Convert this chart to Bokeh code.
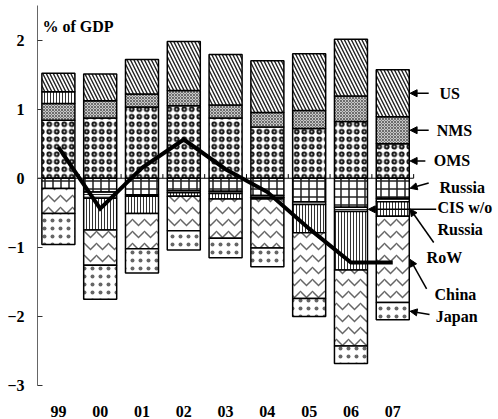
import numpy as np
from bokeh.plotting import figure
from bokeh.models import FixedTicker, Arrow, NormalHead
from bokeh.core.properties import value
from bokeh.embed import file_html
from bokeh.resources import INLINE

years = ["99", "00", "01", "02", "03", "04", "05", "06", "07"]

# positive contributions (% of GDP), stacked upward from zero
oms = [0.84, 0.87, 1.03, 1.05, 0.87, 0.74, 0.72, 0.82, 0.50]
nms = [0.24, 0.25, 0.19, 0.22, 0.19, 0.21, 0.26, 0.37, 0.39]
row_pos = [0.17, 0, 0, 0, 0, 0, 0, 0, 0]
us = [0.27, 0.39, 0.50, 0.71, 0.73, 0.75, 0.82, 0.82, 0.68]

# negative contributions, stacked downward from zero
russia = [-0.15, -0.20, -0.24, -0.18, -0.19, -0.25, -0.34, -0.42, -0.29]
cis = [0, -0.09, -0.02, -0.03, -0.03, -0.03, -0.04, -0.06, -0.05]
row_neg = [0, -0.46, -0.25, -0.05, -0.08, -0.02, -0.41, -0.85, -0.21]
china = [-0.36, -0.51, -0.51, -0.50, -0.57, -0.71, -0.95, -1.10, -1.25]
japan = [-0.45, -0.49, -0.35, -0.28, -0.28, -0.27, -0.26, -0.25, -0.25]

# euro area balance (line)
total = [0.45, -0.44, 0.15, 0.56, 0.13, -0.20, -0.73, -1.22, -1.22]

y_ticks = [-3, -2, -1, 0, 1, 2]

FONT = "Liberation Serif"
FS = "16px"
BAR_W = 0.79

styles = {
    "US": dict(hatch_pattern="\\", hatch_scale=7, hatch_weight=1.4, hatch_color="#222222", fill_color="white"),
    "NMS": dict(hatch_pattern="x", hatch_scale=3, hatch_weight=0.8, hatch_color="#555555", fill_color="#c8c8c8"),
    "OMS": dict(hatch_pattern="o", hatch_scale=7.5, hatch_weight=2.0, hatch_color="#111111", fill_color="white"),
    "RoW": dict(hatch_pattern="|", hatch_scale=3, hatch_weight=1, hatch_color="#333333", fill_color="white"),
    "Russia": dict(hatch_pattern="+", hatch_scale=8, hatch_weight=1.5, hatch_color="#222222", fill_color="white"),
    "CIS": dict(hatch_pattern="-", hatch_scale=2.5, hatch_weight=1.2, hatch_color="#111111", fill_color="white"),
    "China": dict(hatch_pattern="v", hatch_scale=12, hatch_weight=1.5, hatch_color="#666666", fill_color="white"),
    "Japan": dict(hatch_pattern=".", hatch_scale=8, hatch_weight=0.6, hatch_color="#666666", fill_color="white"),
}

n = len(years)
xs = np.arange(n)

p = figure(width=498, height=419, x_range=(-0.5, 10.53), y_range=(-3, 2.5),
           output_backend="svg", toolbar_location=None,
           min_border_left=37, min_border_right=0, min_border_top=5, min_border_bottom=29)
p.outline_line_color = None
p.xgrid.visible = False
p.ygrid.visible = False
p.background_fill_color = "white"

segs = {}


def stack(series_list, names):
    base = np.zeros(n)
    for name, vals in zip(names, series_list):
        v = np.array(vals, dtype=float)
        top = base + v
        mask = v != 0
        segs.setdefault(name, {})
        for i in range(n):
            if mask[i]:
                segs[name][i] = (min(base[i], top[i]), max(base[i], top[i]))
        p.vbar(x=xs[mask], width=BAR_W, bottom=base[mask], top=top[mask],
               line_color="black", line_width=1.5, **styles[name if name != "RoW+" else "RoW"])
        base = top


# zero line with category separators
p.segment(x0=[-0.5], x1=[n - 0.5], y0=[0], y1=[0], line_color="black", line_width=1)
p.segment(x0=xs + 0.5, x1=xs + 0.5, y0=np.zeros(n), y1=np.full(n, 0.06), line_color="black", line_width=1)

stack([oms, nms, row_pos, us], ["OMS", "NMS", "RoW+", "US"])
stack([russia, cis, row_neg, china, japan], ["Russia", "CIS", "RoW", "China", "Japan"])

p.line(xs, total, line_color="black", line_width=4, line_join="miter")

# axes
p.yaxis.ticker = FixedTicker(ticks=y_ticks)
p.yaxis.major_tick_in = 5
p.yaxis.major_tick_out = 0
p.yaxis.minor_tick_line_color = None
p.yaxis.axis_line_color = "#666666"
p.yaxis.major_tick_line_color = "#333333"
p.yaxis.major_label_text_font = FONT
p.yaxis.major_label_text_font_style = "bold"
p.yaxis.major_label_text_font_size = FS
p.yaxis.major_label_text_color = "black"
p.yaxis.major_label_standoff = 13

p.xaxis.ticker = FixedTicker(ticks=list(range(n)))
p.xaxis.major_label_overrides = {i: y for i, y in enumerate(years)}
p.xaxis.axis_line_color = None
p.xaxis.major_tick_line_color = None
p.xaxis.minor_tick_line_color = None
p.xaxis.major_label_text_font = FONT
p.xaxis.major_label_text_font_style = "bold"
p.xaxis.major_label_text_font_size = FS
p.xaxis.major_label_text_color = "black"
p.xaxis.major_label_standoff = 14

# unit label
p.text(x=[-0.38], y=[2.19], text=["% of GDP"], text_font=value(FONT), text_font_style="bold",
       text_font_size=FS, text_baseline="middle", text_align="left", text_color="black")

# right-hand labels with arrows pointing at segments
last = n - 1
edge = BAR_W / 2


def mid(name, i):
    lo, hi = segs[name][i]
    return (lo + hi) / 2


annots = [
    (["US"], 9.12, None, 8.86, None, "US", last),
    (["NMS"], 9.05, None, 8.86, None, "NMS", last),
    (["OMS"], 8.98, None, 8.78, None, "OMS", last),
    (["Russia"], 9.12, -0.13, 8.86, -0.07, "Russia", last),
    (["CIS w/o", "Russia"], 9.07, -0.43, 9.04, None, "CIS", last - 1),
    (["RoW"], 8.81, -1.143, 8.98, -0.93, "RoW", last),
    (["China"], 9.0, -1.686, 8.81, -1.6, "China", last),
    (["Japan"], 9.03, -2.0, 8.88, -1.971, "Japan", last),
]

for lines, tx, ty, ax, ay, seg, idx in annots:
    hy = mid(seg, idx)
    if ty is None:
        ty = hy
    if ay is None:
        ay = hy
    for k, t in enumerate(lines):
        p.text(x=[tx], y=[ty - k * 0.314], text=[t], text_font=value(FONT), text_font_style="bold",
               text_font_size=FS, text_baseline="middle", text_align="left", text_color="black")
    p.add_layout(Arrow(x_start=ax, y_start=ay, x_end=idx + edge + 0.02, y_end=hy,
                       line_color="black", line_width=1.5,
                       end=NormalHead(size=7, fill_color="black", line_color="black", line_width=1)))

open("out.html", "w").write(file_html(p, INLINE))
